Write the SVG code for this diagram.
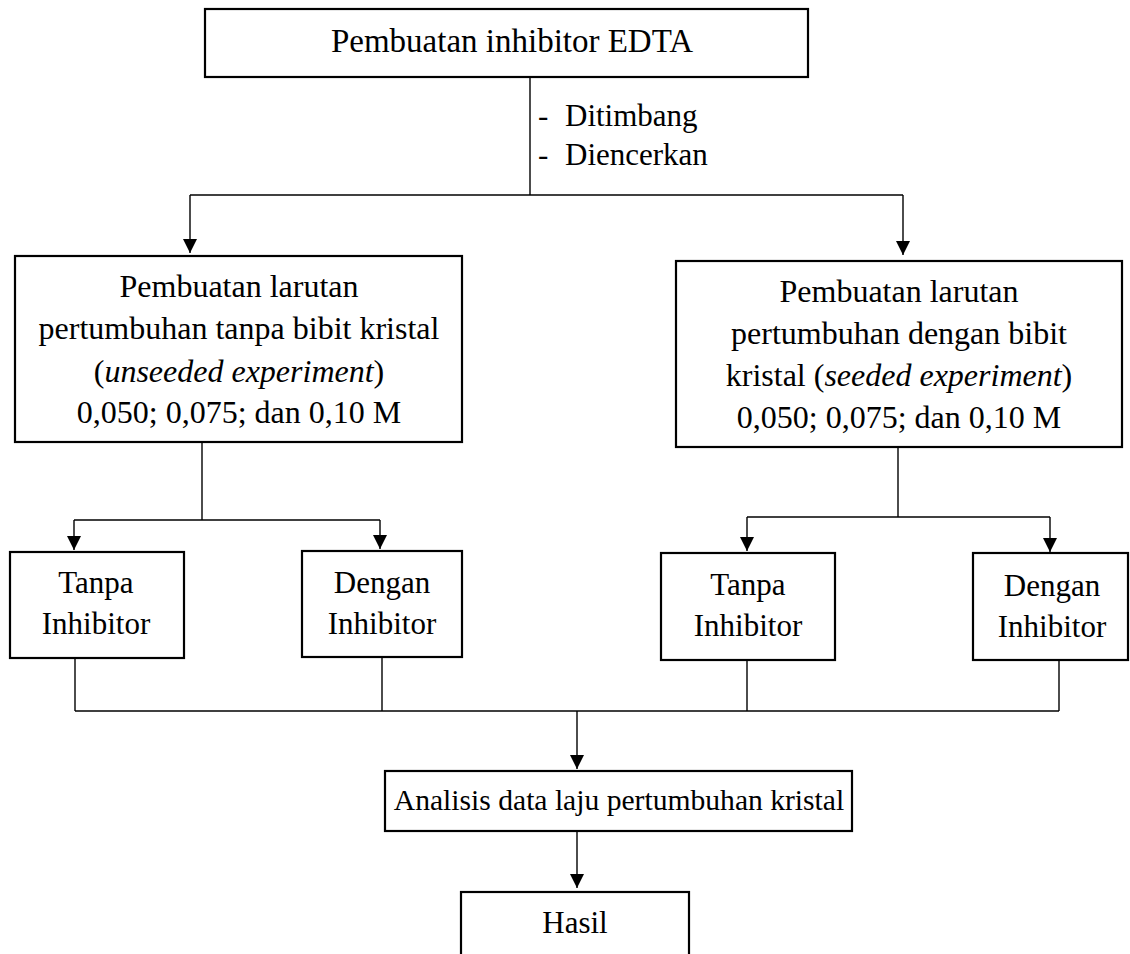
<svg xmlns="http://www.w3.org/2000/svg" width="1130" height="954" viewBox="0 0 1130 954">
  <style>
    .box { fill: #ffffff; stroke: #000000; stroke-width: 2.2; }
    .wire { fill: none; stroke: #000000; stroke-width: 1.4; }
    text { font-family: "Liberation Serif", "Times New Roman", serif; font-size: 31px; fill: #000000; }
    .c { text-anchor: middle; }
    .i { font-style: italic; }
    .big { font-size: 32px; }
  </style>
  <defs>
    <marker id="arrow" markerUnits="userSpaceOnUse" markerWidth="14" markerHeight="14" refX="14" refY="7" orient="auto">
      <path d="M0,0 L14,7 L0,14 Z" fill="#000000"/>
    </marker>
  </defs>

  <rect width="1130" height="954" fill="#ffffff"/>

  <!-- connectors -->
  <g id="connectors">
    <!-- EDTA preparation splits into the two solution branches -->
    <path class="wire" d="M530,77 V195"/>
    <path class="wire" d="M190,195 H903"/>
    <path class="wire" d="M190,195 V253" marker-end="url(#arrow)"/>
    <path class="wire" d="M903,195 V255" marker-end="url(#arrow)"/>
    <!-- unseeded branch -->
    <path class="wire" d="M202,442 V520"/>
    <path class="wire" d="M74,520 H380"/>
    <path class="wire" d="M74,520 V550" marker-end="url(#arrow)"/>
    <path class="wire" d="M380,520 V549" marker-end="url(#arrow)"/>
    <!-- seeded branch -->
    <path class="wire" d="M898,447 V517"/>
    <path class="wire" d="M747,517 H1050"/>
    <path class="wire" d="M747,517 V551" marker-end="url(#arrow)"/>
    <path class="wire" d="M1050,517 V552" marker-end="url(#arrow)"/>
    <!-- collect the four variants -->
    <path class="wire" d="M75,658 V711"/>
    <path class="wire" d="M382,657 V711"/>
    <path class="wire" d="M747,660 V711"/>
    <path class="wire" d="M1059,660 V711"/>
    <path class="wire" d="M75,711 H1059"/>
    <path class="wire" d="M577,711 V769" marker-end="url(#arrow)"/>
    <path class="wire" d="M577,831 V888" marker-end="url(#arrow)"/>
    <!-- step notes -->
    <text x="538" y="126">-</text>
    <text x="565" y="126">Ditimbang</text>
    <text x="538" y="165">-</text>
    <text x="565" y="165">Diencerkan</text>
  </g>

  <g id="edta">
    <rect class="box" x="205" y="9" width="603" height="68"/>
    <text class="c" x="512" y="52" style="font-size:33px">Pembuatan inhibitor EDTA</text>
  </g>

  <g id="unseeded">
    <rect class="box" x="15" y="256" width="447" height="186"/>
    <text class="c big" x="239" y="297">Pembuatan larutan</text>
    <text class="c big" x="239" y="339">pertumbuhan tanpa bibit kristal</text>
    <text class="c big" x="239" y="382">(<tspan class="i">unseeded experiment</tspan>)</text>
    <text class="c big" x="239" y="423">0,050; 0,075; dan 0,10 M</text>
  </g>

  <g id="seeded">
    <rect class="box" x="676" y="261" width="446" height="186"/>
    <text class="c big" x="899" y="302">Pembuatan larutan</text>
    <text class="c big" x="899" y="344">pertumbuhan dengan bibit</text>
    <text class="c big" x="899" y="386">kristal (<tspan class="i">seeded experiment</tspan>)</text>
    <text class="c big" x="899" y="428">0,050; 0,075; dan 0,10 M</text>
  </g>

  <g id="unseeded-without">
    <rect class="box" x="10" y="552" width="174" height="106"/>
    <text class="c" x="96" y="593">Tanpa</text>
    <text class="c" x="96" y="634">Inhibitor</text>
  </g>

  <g id="unseeded-with">
    <rect class="box" x="302" y="551" width="160" height="106"/>
    <text class="c" x="382" y="593">Dengan</text>
    <text class="c" x="382" y="634">Inhibitor</text>
  </g>

  <g id="seeded-without">
    <rect class="box" x="661" y="553" width="174" height="107"/>
    <text class="c" x="748" y="595">Tanpa</text>
    <text class="c" x="748" y="636">Inhibitor</text>
  </g>

  <g id="seeded-with">
    <rect class="box" x="973" y="553" width="155" height="107"/>
    <text class="c" x="1052" y="596">Dengan</text>
    <text class="c" x="1052" y="637">Inhibitor</text>
  </g>

  <g id="analysis">
    <rect class="box" x="385" y="771" width="467" height="60"/>
    <text class="c" x="619" y="810" style="font-size:29.6px">Analisis data laju pertumbuhan kristal</text>
  </g>

  <g id="result">
    <rect class="box" x="461" y="892" width="228" height="80"/>
    <text class="c" x="575" y="933">Hasil</text>
  </g>
</svg>
